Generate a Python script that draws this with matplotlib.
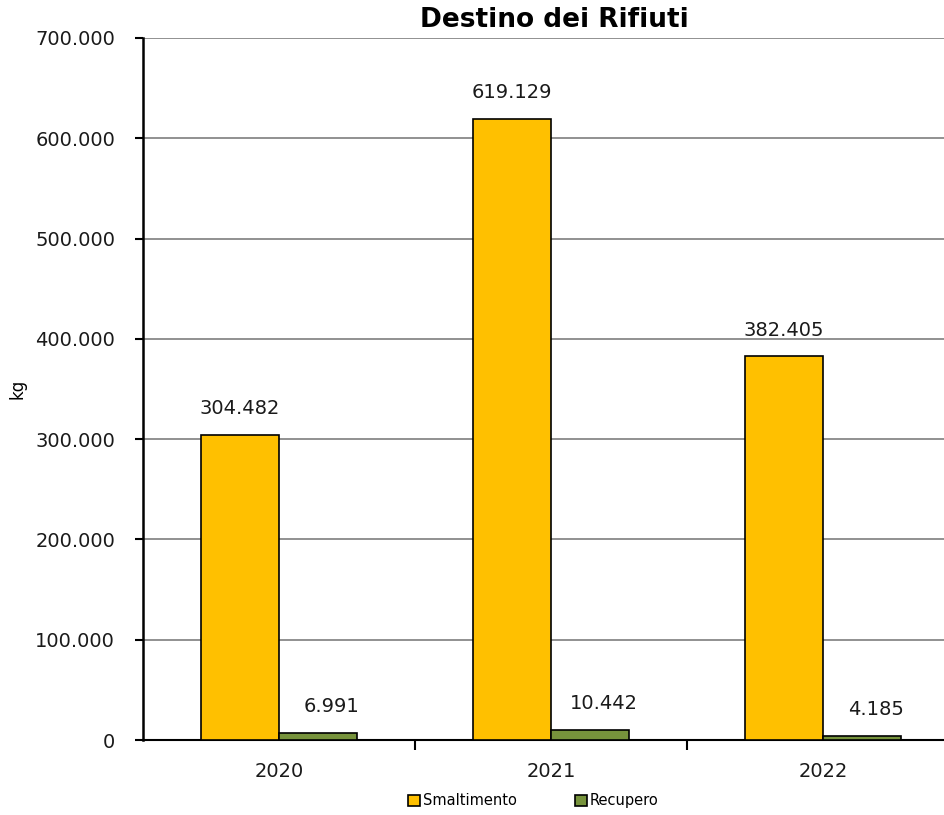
import numpy as np
import matplotlib.pyplot as plt
from matplotlib.ticker import FuncFormatter

years = ['2020', '2021', '2022']
smaltimento = [304482, 619129, 382405]
recupero = [6991, 10442, 4185]
series_names = ['Smaltimento', 'Recupero']
colors = ['#FFC000', '#77933C']


def it_fmt(v, pos=None):
    return f'{int(round(v)):,}'.replace(',', '.')


fig = plt.figure(figsize=(9.44, 8.15), dpi=100)
ax = fig.add_axes([0.1515, 0.092, 0.8485, 0.8615])

x = np.arange(len(years))
w = 0.287
b1 = ax.bar(x - w / 2, smaltimento, w, color=colors[0], edgecolor='black',
            linewidth=1.2, label=series_names[0], zorder=3)
b2 = ax.bar(x + w / 2, recupero, w, color=colors[1], edgecolor='black',
            linewidth=1.2, label=series_names[1], zorder=3)

for r in b1:
    ax.annotate(it_fmt(r.get_height()),
                (r.get_x() + r.get_width() / 2, r.get_height()),
                xytext=(0, 12), textcoords='offset points',
                ha='center', va='bottom', fontsize=14, color='#1a1a1a')
for r in b2:
    ax.annotate(it_fmt(r.get_height()),
                (r.get_x() + r.get_width() / 2, r.get_height()),
                xytext=(10, 12), textcoords='offset points',
                ha='center', va='bottom', fontsize=14, color='#1a1a1a')

ax.set_ylim(0, 700000)
ax.set_yticks(np.arange(0, 700001, 100000))
ax.yaxis.set_major_formatter(FuncFormatter(it_fmt))
ax.set_xlim(-0.5, 2.445)
ax.set_xticks(x)
ax.set_xticklabels(years)
ax.set_xticks([0.5, 1.5], minor=True)
ax.tick_params(axis='x', which='major', length=0, pad=16, labelsize=14,
               labelcolor='#1a1a1a')
ax.tick_params(axis='x', which='minor', length=7, width=1.5, direction='out')
ax.tick_params(axis='y', length=6, width=1.5, direction='out', labelsize=14,
               pad=14, labelcolor='#1a1a1a')

ax.grid(axis='y', color='#888888', linewidth=1.3, zorder=0)
for s in ['top', 'right']:
    ax.spines[s].set_visible(False)
ax.spines['left'].set_linewidth(1.8)
ax.spines['bottom'].set_linewidth(1.5)

ax.set_title('Destino dei Rifiuti', fontsize=19, fontweight='bold', pad=8,
             x=0.513)
ax.set_ylabel('kg', fontsize=12, labelpad=6)

fig.legend(loc='lower center', bbox_to_anchor=(0.565, -0.008), ncol=2,
           frameon=False, fontsize=10.5, handlelength=0.8, handleheight=0.8,
           handletextpad=0.2, columnspacing=4)

fig.savefig('out.png', dpi=100)
